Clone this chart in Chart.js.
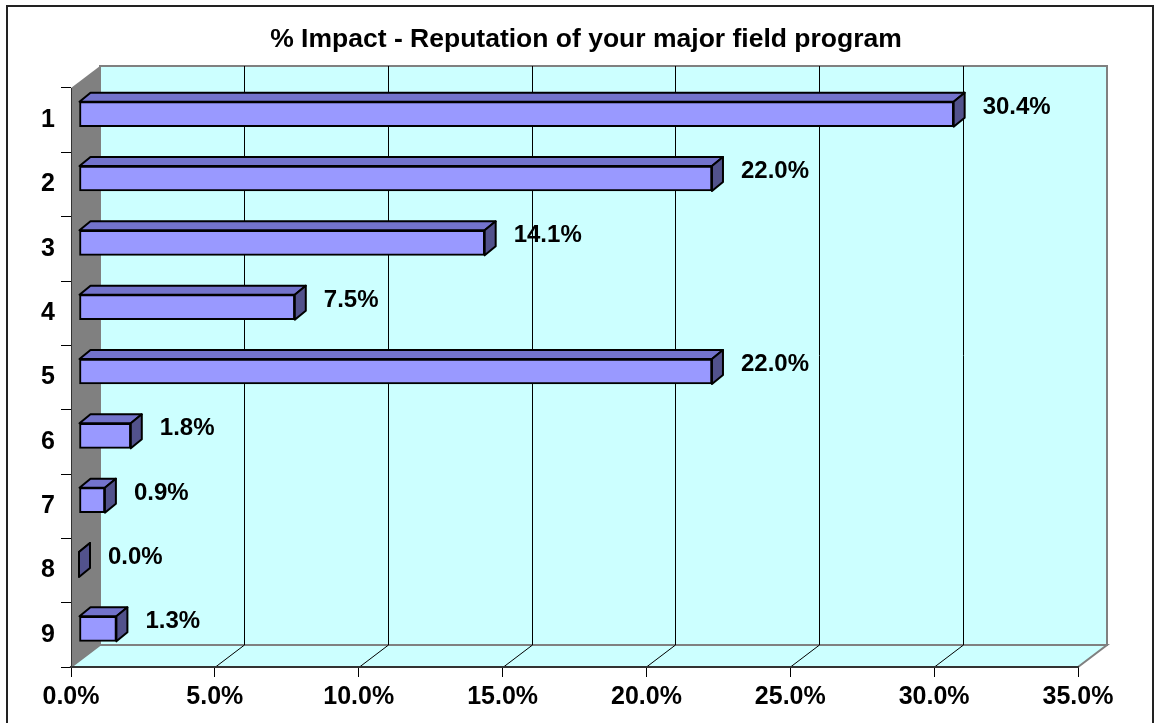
<!DOCTYPE html>
<html>
<head>
<meta charset="utf-8">
<title>% Impact - Reputation of your major field program</title>
<script src="https://cdn.jsdelivr.net/npm/chart.js@4/dist/chart.umd.min.js"></script>
<style>
  html, body { margin: 0; padding: 0; background: #ffffff; }
  #impactChart { display: block; }
</style>
</head>
<body>
<canvas id="impactChart" width="1159" height="723"></canvas>
<script>
// rating categories and the share of answers for each
const ratingLabels = ["1", "2", "3", "4", "5", "6", "7", "8", "9"];
const impactPercent = [30.4, 22.0, 14.1, 7.5, 22.0, 1.8, 0.9, 0.0, 1.3];
const percentTicks = [0, 5, 10, 15, 20, 25, 30, 35];

const chartTitle = "% Impact - Reputation of your major field program";
const FONT = "'Liberation Sans', Arial, sans-serif";

// depth of the 3d box and where the bars sit inside it
const DEPTH_X = 29;
const DEPTH_Y = -22;
const BAR_SHIFT_X = 8;
const BAR_SHIFT_Y = -6;
const BAR_DEPTH_X = 11;
const BAR_DEPTH_Y = -9;

const WALL_COLOR = "#CCFFFF";
const SIDE_WALL = "#808080";
const BAR_FRONT = "#9999FF";
const BAR_TOP = "#7373CC";
const BAR_SIDE = "#52528C";

function polygon(ctx, pts, fill, stroke, width) {
  ctx.beginPath();
  ctx.moveTo(pts[0][0], pts[0][1]);
  for (let i = 1; i < pts.length; i++) ctx.lineTo(pts[i][0], pts[i][1]);
  ctx.closePath();
  if (fill) {
    ctx.fillStyle = fill;
    ctx.fill();
  }
  if (stroke) {
    ctx.strokeStyle = stroke;
    ctx.lineWidth = width || 1;
    ctx.stroke();
  }
}

const box3d = {
  id: "box3d",
  beforeDraw(chart) {
    const ctx = chart.ctx;
    const area = chart.chartArea;
    const xScale = chart.scales.x;
    ctx.save();
    ctx.fillStyle = "#ffffff";
    ctx.fillRect(0, 0, chart.width, chart.height);

    // outer frame
    ctx.strokeStyle = "#222222";
    ctx.lineWidth = 2;
    ctx.strokeRect(7, 6, 1146, 730);

    const L = area.left, R = area.right, T = area.top, B = area.bottom;

    // back wall
    polygon(ctx, [[L + DEPTH_X, T + DEPTH_Y], [R + DEPTH_X, T + DEPTH_Y],
      [R + DEPTH_X, B + DEPTH_Y], [L + DEPTH_X, B + DEPTH_Y]], WALL_COLOR, SIDE_WALL, 2);
    // floor
    polygon(ctx, [[L, B], [L + DEPTH_X, B + DEPTH_Y], [R + DEPTH_X, B + DEPTH_Y], [R, B]],
      WALL_COLOR, SIDE_WALL, 2);
    // side wall
    polygon(ctx, [[L, T], [L + DEPTH_X, T + DEPTH_Y], [L + DEPTH_X, B + DEPTH_Y], [L, B]],
      SIDE_WALL, null);

    // gridlines on the back wall and across the floor
    ctx.strokeStyle = "#000000";
    ctx.lineWidth = 1;
    percentTicks.forEach((v) => {
      if (v === percentTicks[0] || v === percentTicks[percentTicks.length - 1]) return;
      const px = Math.round(xScale.getPixelForValue(v)) + 0.5;
      ctx.beginPath();
      ctx.moveTo(px + DEPTH_X, T + DEPTH_Y);
      ctx.lineTo(px + DEPTH_X, B + DEPTH_Y);
      ctx.lineTo(px, B);
      ctx.stroke();
    });
    ctx.restore();
  },
  beforeDatasetsDraw(chart) {
    chart.ctx.save();
    chart.ctx.translate(BAR_SHIFT_X, BAR_SHIFT_Y);
  },
  afterDatasetsDraw(chart) {
    const ctx = chart.ctx;
    const meta = chart.getDatasetMeta(0);
    ctx.lineJoin = "round";
    const ends = [];
    meta.data.forEach((bar) => {
      const p = bar.getProps(["x", "y", "base", "height"], true);
      const top = p.y - p.height / 2;
      const bottom = p.y + p.height / 2;
      polygon(ctx, [[p.base, top], [p.x, top], [p.x + BAR_DEPTH_X, top + BAR_DEPTH_Y],
        [p.base + BAR_DEPTH_X, top + BAR_DEPTH_Y]], BAR_TOP, "#000000", 2);
      polygon(ctx, [[p.x, top], [p.x + BAR_DEPTH_X, top + BAR_DEPTH_Y],
        [p.x + BAR_DEPTH_X, bottom + BAR_DEPTH_Y], [p.x, bottom]], BAR_SIDE, "#000000", 2);
      ends.push({ x: p.x + BAR_DEPTH_X + BAR_SHIFT_X, y: p.y + BAR_SHIFT_Y });
    });
    ctx.restore();

    // value labels beside each bar
    ctx.save();
    ctx.fillStyle = "#000000";
    ctx.font = "bold 24px " + FONT;
    ctx.textAlign = "left";
    ctx.textBaseline = "middle";
    ends.forEach((e, i) => {
      ctx.fillText(impactPercent[i].toFixed(1) + "%", e.x + 18, e.y - 7);
    });

    // chart title
    ctx.font = "bold 26.5px " + FONT;
    ctx.textAlign = "center";
    ctx.fillText(chartTitle, 586, 40);
    ctx.restore();
  },
};

new Chart(document.getElementById("impactChart"), {
  type: "bar",
  data: {
    labels: ratingLabels,
    datasets: [
      {
        data: impactPercent,
        backgroundColor: BAR_FRONT,
        borderColor: "#000000",
        borderWidth: 2,
        borderSkipped: false,
        barThickness: 25,
        clip: false,
      },
    ],
  },
  options: {
    indexAxis: "y",
    responsive: false,
    animation: false,
    events: [],
    layout: { padding: { left: 0, right: 81, top: 88, bottom: 0 } },
    plugins: {
      legend: { display: false },
      title: { display: false },
      tooltip: { enabled: false },
    },
    scales: {
      x: {
        min: 0,
        max: 35,
        afterFit(scale) {
          scale.height = 56;
        },
        afterBuildTicks(scale) {
          scale.ticks = percentTicks.map((v) => ({ value: v }));
        },
        ticks: {
          color: "#000000",
          padding: 5,
          maxRotation: 0,
          font: { family: FONT, size: 25, weight: "bold" },
          callback: (v) => Number(v).toFixed(1) + "%",
        },
        grid: {
          display: true,
          drawOnChartArea: false,
          color: "#000000",
          tickLength: 10,
        },
        border: { display: true, color: "#333333", width: 2 },
      },
      y: {
        afterFit(scale) {
          scale.width = 71;
        },
        ticks: {
          color: "#000000",
          padding: 6,
          font: { family: FONT, size: 25, weight: "bold" },
        },
        grid: {
          display: true,
          drawOnChartArea: false,
          color: "#000000",
          tickLength: 10,
        },
        border: { display: true, color: "#333333", width: 1 },
      },
    },
  },
  plugins: [box3d],
});
</script>
</body>
</html>
